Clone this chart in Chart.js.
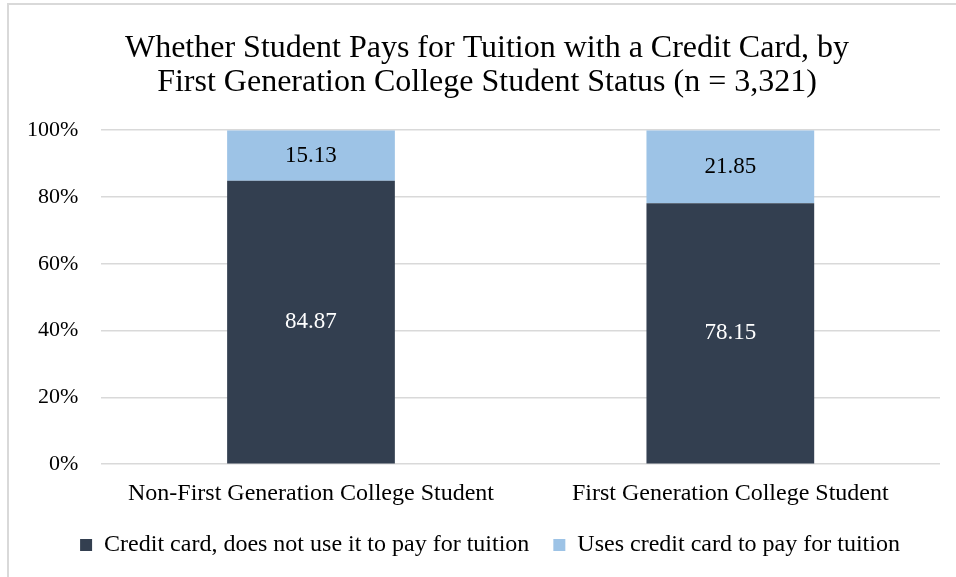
<!DOCTYPE html>
<html>
<head>
<meta charset="utf-8">
<script src="https://cdn.jsdelivr.net/npm/chart.js@4.4.1/dist/chart.umd.min.js"></script>
<style>
  html, body { margin: 0; padding: 0; background: #fff; }
  #wrap { position: relative; width: 956px; height: 577px; }
  #frame { position: absolute; left: 7px; top: 3px; right: 0; bottom: 0;
           border-top: 2px solid #d9d9d9; border-left: 2px solid #d9d9d9; }
  canvas { position: absolute; left: 0; top: 0; }
</style>
</head>
<body>
<div id="wrap">
  <div id="frame"></div>
  <canvas id="tuitionChart" width="956" height="577"></canvas>
</div>
<script>
// data
var categories = ['Non-First Generation College Student', 'First Generation College Student'];
var seriesNames = ['Credit card, does not use it to pay for tuition', 'Uses credit card to pay for tuition'];
var notUsing = [84.87, 78.15];
var usingCard = [15.13, 21.85];
var yTicks = [0, 20, 40, 60, 80, 100];

var fontName = '"Liberation Serif", "Times New Roman", serif';

// draw the value inside each bar segment
var barLabels = {
  id: 'barLabels',
  afterDatasetsDraw: function(chart) {
    var ctx = chart.ctx;
    ctx.save();
    ctx.font = '23px ' + fontName;
    ctx.textAlign = 'center';
    ctx.textBaseline = 'middle';
    chart.data.datasets.forEach(function(ds, i) {
      var meta = chart.getDatasetMeta(i);
      meta.data.forEach(function(bar, j) {
        var mid = (bar.y + bar.base) / 2;
        ctx.fillStyle = i == 0 ? '#ffffff' : '#000000';
        ctx.fillText(ds.data[j].toFixed(2), bar.x, mid);
      });
    });
    ctx.restore();
  }
};

// title and legend sit a bit right of the canvas centre in the original
var nudge = {
  id: 'nudge',
  afterLayout: function(chart) {
    chart.titleBlock.left += 30;
    chart.legend.left += 36;
  }
};

var ctx = document.getElementById('tuitionChart').getContext('2d');

var tuitionChart = new Chart(ctx, {
  type: 'bar',
  data: {
    labels: categories,
    datasets: [{
      label: seriesNames[0],
      data: notUsing,
      backgroundColor: '#333f50',
      categoryPercentage: 1,
      barPercentage: 0.4
    }, {
      label: seriesNames[1],
      data: usingCard,
      backgroundColor: '#9dc3e6',
      categoryPercentage: 1,
      barPercentage: 0.4
    }]
  },
  plugins: [barLabels, nudge],
  options: {
    responsive: false,
    animation: false,
    layout: { padding: { left: 4, right: 16, top: 32, bottom: 10 } },
    plugins: {
      title: {
        display: true,
        text: ['Whether Student Pays for Tuition with a Credit Card, by',
               'First Generation College Student Status (n = 3,321)'],
        color: '#000',
        font: { family: fontName, size: 32, weight: 'normal', lineHeight: 1.05 },
        padding: { top: 0, bottom: 31 }
      },
      legend: {
        position: 'bottom',
        labels: {
          color: '#000',
          font: { family: fontName, size: 24 },
          boxWidth: 12,
          boxHeight: 12,
          padding: 24
        }
      },
      tooltip: { enabled: false }
    },
    scales: {
      x: {
        stacked: true,
        grid: { display: false },
        border: { display: false },
        ticks: { color: '#000', font: { family: fontName, size: 24 }, padding: 7 },
        afterFit: function(scale) {
          scale.height -= 6;
        }
      },
      y: {
        stacked: true,
        min: 0,
        max: 100,
        afterBuildTicks: function(axis) {
          axis.ticks = yTicks.map(function(v) { return { value: v }; });
        },
        grid: { color: '#d9d9d9', lineWidth: 1.5, drawTicks: false },
        border: { display: false },
        ticks: {
          color: '#000',
          font: { family: fontName, size: 22 },
          padding: 23,
          callback: function(v) { return v + '%'; }
        }
      }
    }
  }
});
</script>
</body>
</html>
